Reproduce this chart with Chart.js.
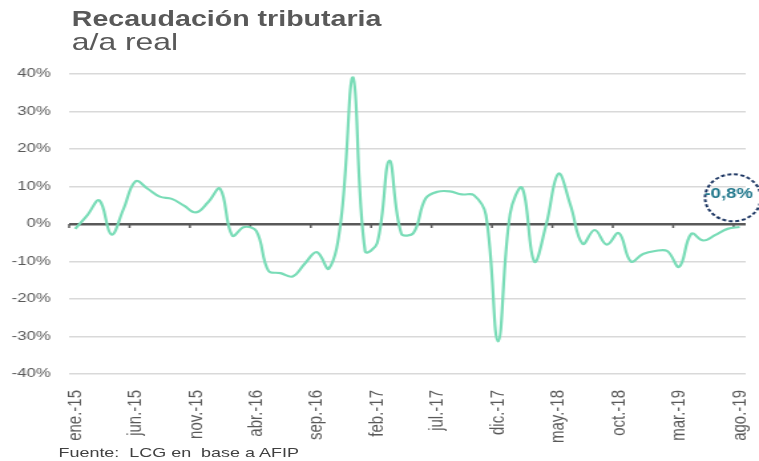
<!DOCTYPE html>
<html lang="es">
<head>
<meta charset="utf-8">
<title>Recaudación tributaria</title>
<script src="https://cdn.jsdelivr.net/npm/chart.js@4.4.1/dist/chart.umd.min.js"></script>
<style>
  html, body { margin: 0; padding: 0; background: #fff; overflow: hidden; }
  /* la lámina original está estirada en horizontal; se dibuja angosta y se estira */
  #lamina {
    position: relative;
    width: 571px;
    height: 461px;
    transform: scaleX(1.3292);
    transform-origin: 0 0;
    font-family: "Liberation Sans", Arial, sans-serif;
    color: #595959;
  }
  #lamina canvas { position: absolute; left: 0; top: 0; }
  .titulo { position: absolute; left: 54px; white-space: pre; line-height: 1; }
  #t1 { top: 9px; font-size: 21.5px; font-weight: bold; }
  #t2 { top: 30px; font-size: 24px; }
  #fuente { position: absolute; left: 44px; top: 446px; font-size: 13.5px; line-height: 1; white-space: pre; color: #404040; }
</style>
</head>
<body>
<div id="lamina">
  <canvas id="grafico" width="571" height="461"></canvas>
  <div class="titulo" id="t1">Recaudación tributaria</div>
  <div class="titulo" id="t2">a/a real</div>
  <div id="fuente">Fuente:  LCG en  base a AFIP</div>
</div>
<script>
// Meses (ene.-15 a ago.-19)
const meses = [
  'ene.-15', 'feb.-15', 'mar.-15', 'abr.-15', 'may.-15', 'jun.-15', 'jul.-15', 'ago.-15', 'sep.-15', 'oct.-15', 'nov.-15', 'dic.-15',
  'ene.-16', 'feb.-16', 'mar.-16', 'abr.-16', 'may.-16', 'jun.-16', 'jul.-16', 'ago.-16', 'sep.-16', 'oct.-16', 'nov.-16', 'dic.-16',
  'ene.-17', 'feb.-17', 'mar.-17', 'abr.-17', 'may.-17', 'jun.-17', 'jul.-17', 'ago.-17', 'sep.-17', 'oct.-17', 'nov.-17', 'dic.-17',
  'ene.-18', 'feb.-18', 'mar.-18', 'abr.-18', 'may.-18', 'jun.-18', 'jul.-18', 'ago.-18', 'sep.-18', 'oct.-18', 'nov.-18', 'dic.-18',
  'ene.-19', 'feb.-19', 'mar.-19', 'abr.-19', 'may.-19', 'jun.-19', 'jul.-19', 'ago.-19'
];

// Variación a/a real de la recaudación (%)
const recaudacion = [
  -1.3, 2.3, 6.3, -2.8, 4.0, 11.4, 9.4, 7.3, 6.7, 4.9, 3.1, 5.8,
  9.4, -3.1, -0.8, -1.9, -12.5, -13.1, -14.0, -10.6, -7.5, -11.9, 1.0, 39.1,
  -7.3, -5.1, 16.9, -2.6, -2.4, 6.8, 8.6, 8.7, 7.9, 7.7, 2.4, -31.3,
  2.7, 9.6, -10.0, 0.0, 13.4, 5.0, -5.3, -1.6, -5.5, -2.4, -10.0, -8.0,
  -7.2, -7.2, -11.4, -2.6, -4.4, -2.9, -1.3, -0.8
];

// Ejes
const yMin = -40;
const yMax = 40;
const yPaso = 10;
const cadaCuantosMeses = 5;

const gris = '#595959';

// Marcas del eje en cero, entre categorías, y la elipse del último dato
const extrasPlugin = {
  id: 'extras',
  beforeDatasetsDraw(chart) {
    const { ctx, scales: { x, y } } = chart;
    const y0 = y.getPixelForValue(0);
    ctx.save();
    ctx.strokeStyle = gris;
    ctx.lineWidth = 1.5;
    for (let i = 0; i < meses.length; i += cadaCuantosMeses) {
      const xb = x.getPixelForValue(i - 0.5);
      ctx.beginPath();
      ctx.moveTo(xb, y0);
      ctx.lineTo(xb, y0 + 4);
      ctx.stroke();
    }
    ctx.restore();
  },
  afterDatasetsDraw(chart) {
    const { ctx, scales: { x, y } } = chart;
    const ultimo = recaudacion[recaudacion.length - 1];
    const cx = x.getPixelForValue(meses.length - 1) - 5;
    const cy = y.getPixelForValue(7);
    ctx.save();
    ctx.setLineDash([3, 2]);
    ctx.strokeStyle = '#1f3864';
    ctx.lineWidth = 2;
    ctx.beginPath();
    ctx.ellipse(cx, cy, 21, 23.5, 0, 0, Math.PI * 2);
    ctx.stroke();
    ctx.setLineDash([]);
    ctx.fillStyle = '#23798d';
    ctx.font = 'bold 14px "Liberation Sans", Arial, sans-serif';
    ctx.textAlign = 'left';
    ctx.textBaseline = 'alphabetic';
    ctx.fillText(ultimo.toFixed(1).replace('.', ',') + '%', cx - 21.5, cy + 0.5);
    ctx.restore();
  }
};

const ctx = document.getElementById('grafico').getContext('2d');
new Chart(ctx, {
  type: 'line',
  data: {
    labels: meses,
    datasets: [{
      data: recaudacion,
      borderColor: '#79dcb7',
      borderWidth: 2.2,
      tension: 0.4,
      pointRadius: 0,
      fill: false
    }]
  },
  options: {
    responsive: false,
    animation: false,
    devicePixelRatio: 1,
    layout: { padding: { top: 74, right: 10, bottom: 0, left: 0 } },
    plugins: {
      legend: { display: false },
      tooltip: { enabled: false }
    },
    scales: {
      x: {
        offset: true,
        grid: { display: false },
        border: { display: false },
        ticks: {
          autoSkip: false,
          minRotation: 90,
          maxRotation: 90,
          padding: 8,
          color: gris,
          font: { family: '"Liberation Sans", Arial, sans-serif', size: 15 },
          callback: (v, i) => (i % cadaCuantosMeses === 0 ? meses[i] : null)
        },
        afterFit: (s) => {
          s.height = 87;
          // sin relleno extra por las etiquetas giradas
          s.paddingLeft = 0;
          s.paddingRight = 0;
        }
      },
      y: {
        min: yMin,
        max: yMax,
        border: { display: false },
        grid: {
          drawTicks: false,
          color: (c) => (c.tick && c.tick.value === 0 ? gris : '#d9d9d9'),
          lineWidth: (c) => (c.tick && c.tick.value === 0 ? 2.5 : 1.5)
        },
        ticks: {
          stepSize: yPaso,
          padding: 14,
          color: gris,
          font: { family: '"Liberation Sans", Arial, sans-serif', size: 12.5 },
          callback: (v) => v + '%'
        },
        afterFit: (s) => { s.width = 52; }
      }
    }
  },
  plugins: [extrasPlugin]
});
</script>
</body>
</html>
